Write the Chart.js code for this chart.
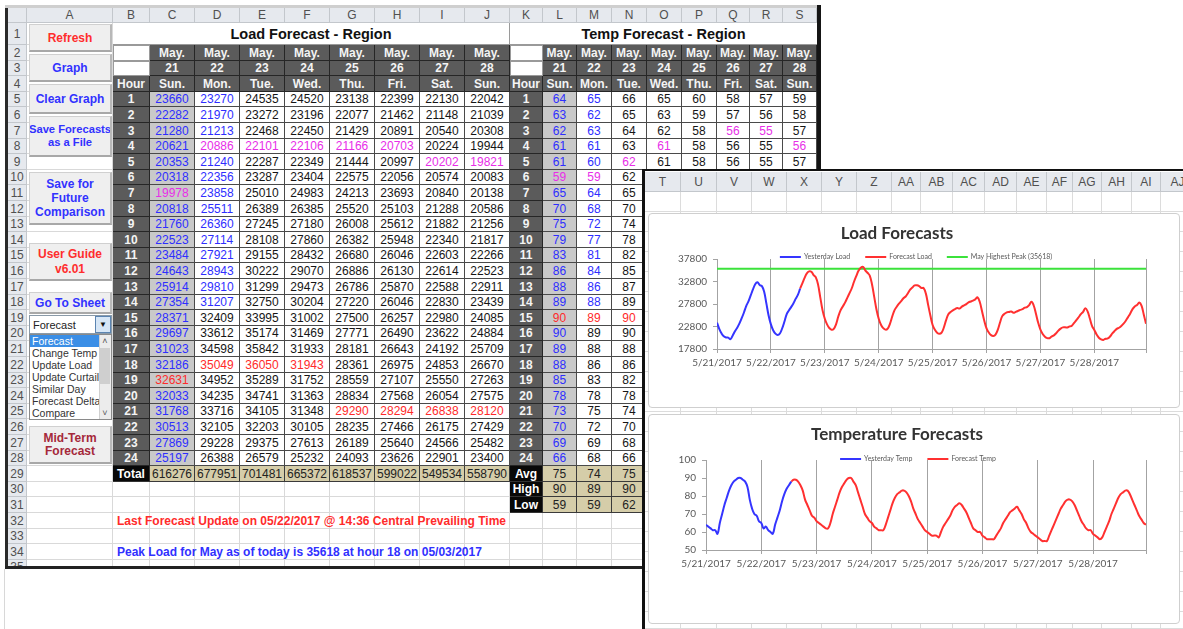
<!DOCTYPE html>
<html>
<head>
<meta charset="utf-8">
<script src="https://cdn.jsdelivr.net/npm/chart.js"></script>
<style>
html,body{margin:0;padding:0;background:#fff;}
body{width:1183px;height:629px;position:relative;overflow:hidden;font-family:"Liberation Sans",Arial,sans-serif;}
.c{position:absolute;box-sizing:border-box;display:flex;align-items:center;justify-content:center;white-space:nowrap;overflow:hidden;}
#sheet{position:absolute;left:0;top:0;width:817px;height:566px;overflow:hidden;}
canvas{position:absolute;}
</style>
</head>
<body>
<div id="sheet"></div>
<div id="frame"></div>
<div id="win"></div>
<canvas id="loadChart" width="532" height="195" style="left:648px;top:213px;"></canvas>
<canvas id="tempChart" width="532" height="210" style="left:648px;top:414px;"></canvas>
<script>
// ---------------- DATA ----------------
const dateLabels = ['5/21/2017','5/22/2017','5/23/2017','5/24/2017','5/25/2017','5/26/2017','5/27/2017','5/28/2017'];
const dayNums = ['21','22','23','24','25','26','27','28'];
const dayNames = ['Sun.','Mon.','Tue.','Wed.','Thu.','Fri.','Sat.','Sun.'];

const loadMay21 = [23660,22282,21280,20621,20353,20318,19978,20818,21760,22523,23484,24643,25914,27354,28371,29697,31023,32186,32631,32033,31768,30513,27869,25197];
const loadMay22 = [23270,21970,21213,20886,21240,22356,23858,25511,26360,27114,27921,28943,29810,31207,32409,33612,34598,35049,34952,34235,33716,32105,29228,26388];
const loadMay23 = [24535,23272,22468,22101,22287,23287,25010,26389,27245,28108,29155,30222,31299,32750,33995,35174,35842,36050,35289,34741,34105,32203,29375,26579];
const loadMay24 = [24520,23196,22450,22106,22349,23404,24983,26385,27180,27860,28432,29070,29473,30204,31002,31469,31933,31943,31752,31363,31348,30105,27613,25232];
const loadMay25 = [23138,22077,21429,21166,21444,22575,24213,25520,26008,26382,26680,26886,26786,27220,27500,27771,28181,28361,28559,28834,29290,28235,26189,24093];
const loadMay26 = [22399,21462,20891,20703,20997,22056,23693,25103,25612,25948,26046,26130,25870,26046,26257,26490,26643,26975,27107,27568,28294,27466,25640,23626];
const loadMay27 = [22130,21148,20540,20224,20202,20574,20840,21288,21882,22340,22603,22614,22588,22830,22980,23622,24192,24853,25550,26054,26838,26175,24566,22901];
const loadMay28 = [22042,21039,20308,19944,19821,20083,20138,20586,21256,21817,22266,22523,22911,23439,24085,24884,25709,26670,27263,27575,28120,27429,25482,23400];
const loadTotals = [616276,677951,701481,665372,618537,599022,549534,558790];

const tempMay21 = [64,63,62,61,61,59,65,70,75,79,83,86,88,89,90,90,89,88,85,78,73,70,69,66];
const tempMay22 = [65,62,63,61,60,59,64,68,72,77,81,84,86,88,89,89,88,86,83,78,75,72,69,68];
const tempMay23 = [66,65,64,63,62,62,65,70,74,78,82,85,87,89,90,90,88,86,82,78,74,70,68,66];
const tempMay24 = [65,63,62,61,61,61,64,68,72,76,79,81,82,83,83,82,80,77,73,70,67,65,63,61];
const tempMay25 = [60,59,58,58,58,57,60,63,65,67,69,72,74,75,76,75,73,71,68,65,62,61,60,60];
const tempMay26 = [58,57,56,56,56,56,58,60,62,65,67,69,71,72,73,74,72,70,67,65,62,60,59,58];
const tempMay27 = [57,56,55,55,55,58,61,64,67,70,73,75,77,78,78,77,75,72,69,66,64,62,61,61];
const tempMay28 = [59,58,57,56,57,60,63,66,70,73,76,79,81,82,83,83,81,78,75,72,69,67,65,64];

const mayPeak = 35618;
const lastActualIndex = 37;   // 5/22 hour ending 14
const loadYTicks = [17800,22800,27800,32800,37800];
const tempYTicks = [50,60,70,80,90,100];

const loadDays = [loadMay21,loadMay22,loadMay23,loadMay24,loadMay25,loadMay26,loadMay27,loadMay28];
const tempDays = [tempMay21,tempMay22,tempMay23,tempMay24,tempMay25,tempMay26,tempMay27,tempMay28];

// ---------------- SPREADSHEET ----------------
const S = document.getElementById('sheet');
function put(parent,x0,y0,x1,y1,css,txt){
  const d=document.createElement('div'); d.className='c';
  d.style.cssText='left:'+x0+'px;top:'+y0+'px;width:'+(x1-x0)+'px;height:'+(y1-y0)+'px;'+(css||'');
  if(txt!==undefined) d.textContent=txt;
  parent.appendChild(d); return d;
}
const CE=[8,27,113,150,195,240,285,330,375,420,465,510,543,577,612,647,682,717,750,783,817];
const RT = r => r===0?8 : r===1?23 : Math.round(45+(r-2)*15.6);
const RB = r => RT(r+1);
function cell(c,r,css,txt,c2,r2){ if(c2===undefined)c2=c; if(r2===undefined)r2=r; return put(S,CE[c],RT(r),CE[c2+1],RB(r2),css,txt); }
const letters=['','A','B','C','D','E','F','G','H','I','J','K','L','M','N','O','P','Q','R','S'];
const GRID='border-right:1px solid #d9d9d9;border-bottom:1px solid #d9d9d9;background:#fff;';
const HDR='background:#e6e9ee;color:#505050;font-size:12px;border-right:1px solid #c3c7cc;border-bottom:1px solid #c3c7cc;';
const DARK='background:#5b5b5b;color:#f4f4f4;font-weight:bold;font-size:12px;border-right:1px solid #262626;border-bottom:1px solid #262626;';
const DATA='border-right:1px solid #4a4a4a;border-bottom:1px solid #4a4a4a;font-size:12px;';
const TAN='background:#d5cda9;color:#222;font-size:12px;border-right:1px solid #3a3a3a;border-bottom:1px solid #3a3a3a;';
const BLACKC='background:#080808;color:#fff;font-weight:bold;font-size:12px;border-right:1px solid #333;border-bottom:1px solid #333;';
const BLUE='#2e2eff', MAG='#e82ee8', RED='#ff2a2a', BLK='#151515';

for(let r=1;r<=35;r++) for(let c=1;c<=19;c++) cell(c,r,GRID);
for(let c=0;c<=19;c++) cell(c,0,HDR,letters[c]);
for(let r=1;r<=35;r++) cell(0,r,HDR,String(r));

cell(2,1,'background:#fff;color:#111;font-weight:bold;font-size:14.5px;border-right:1px solid #9a9a9a;border-bottom:1px solid #9a9a9a;','Load Forecast - Region',10,1);
cell(11,1,'background:#fff;color:#111;font-weight:bold;font-size:14.5px;border-bottom:1px solid #9a9a9a;','Temp Forecast - Region',19,1);
[2,11].forEach(c=>{ cell(c,2,'background:#fff;border:1px solid #9a9a9a;'); cell(c,3,'background:#fff;border:1px solid #9a9a9a;'); cell(c,4,DARK,'Hour'); });

function colorFor(arr,h,flat){
  const mx=Math.max(...arr), mn=Math.min(...arr);
  if(h===arr.indexOf(mx)) return RED;
  if(h===arr.indexOf(mn)) return MAG;
  return flat<=lastActualIndex?BLUE:BLK;
}
for(let d=0;d<8;d++){
  [3+d,12+d].forEach(c=>{ cell(c,2,DARK,'May.'); cell(c,3,DARK,dayNums[d]); cell(c,4,DARK,dayNames[d]); });
  for(let h=0;h<24;h++){
    const flat=d*24+h; const bg = d===0?'background:#c9c9c9;':'background:#fff;';
    cell(3+d,5+h,DATA+bg+'color:'+colorFor(loadDays[d],h,flat)+';',String(loadDays[d][h]));
    cell(12+d,5+h,DATA+bg+'color:'+colorFor(tempDays[d],h,flat)+';',String(tempDays[d][h]));
  }
  cell(3+d,29,TAN,String(loadTotals[d]));
  const t=tempDays[d];
  cell(12+d,29,TAN,String(Math.round(t.reduce((a,b)=>a+b,0)/t.length)));
  cell(12+d,30,TAN,String(Math.max(...t)));
  cell(12+d,31,TAN,String(Math.min(...t)));
}
for(let h=1;h<=24;h++){ cell(2,4+h,DARK,String(h)); cell(11,4+h,DARK,String(h)); }
cell(2,29,BLACKC,'Total');
cell(11,29,BLACKC,'Avg'); cell(11,30,BLACKC,'High'); cell(11,31,BLACKC,'Low');

// buttons
function btn(y0,y1,lines,color,fs,lh){
  const d=put(S,29,y0,112,y1,'background:#efefef;border:1px solid #d0d0d0;border-right:2px solid #b8b8b8;border-bottom:2px solid #a8a8a8;flex-direction:column;font-weight:bold;color:'+color+';font-size:'+fs+'px;line-height:'+lh+'px;');
  lines.forEach(t=>{const s=document.createElement('div'); s.textContent=t; d.appendChild(s);});
}
btn(24,52,['Refresh'],'#ff2d2d',12,14);
btn(54,82,['Graph'],'#3232ff',12,14);
btn(84,114,['Clear Graph'],'#3232ff',12,14);
btn(116,157,['Save Forecasts','as a File'],'#3232ff',11.2,13);
btn(172,225,['Save for','Future','Comparison'],'#3232ff',12,14);
btn(243,281,['User Guide','v6.01'],'#ff2d2d',12,15);
btn(292,314,['Go To Sheet'],'#3232ff',12,14);
btn(426,464,['Mid-Term','Forecast'],'#a5283a',12,13);
// combo box + list
put(S,29,315,112,334,'background:#fff;border:1px solid #8a9aa8;justify-content:flex-start;padding-left:3px;font-size:11px;color:#222;','Forecast');
put(S,95,316,111,333,'background:#d6e6f6;border:1px solid #5b84b1;font-size:8px;color:#111;','\u25BC');
put(S,29,334,112,420,'background:#fff;border:1px solid #8a8a8a;');
const listItems=['Forecast','Change Temp','Update Load','Update Curtailment','Similar Day','Forecast Delta','Compare'];
listItems.forEach((t,i)=>{
  put(S,30,335+i*12,99,347+i*12,'justify-content:flex-start;padding-left:2px;font-size:10.5px;'+(i===0?'background:#3a8ee6;color:#fff;':'color:#333;'),t);
});
put(S,99,335,111,419,'background:#ececec;border-left:1px solid #d0d0d0;');
put(S,100,336,110,346,'font-size:9px;color:#555;','\u02C4');
put(S,100,348,110,384,'background:#cfcfcf;');
put(S,100,407,110,418,'font-size:9px;color:#555;','\u02C5');
// status lines
put(S,117,RT(32),640,RB(32),'justify-content:flex-start;font-weight:bold;font-size:12px;color:#ff2b2b;','Last Forecast Update on 05/22/2017 @ 14:36 Central Prevailing Time');
put(S,117,RT(34),640,RB(34),'justify-content:flex-start;font-weight:bold;font-size:12px;color:#3030ff;','Peak Load for May as of today is 35618 at hour 18 on 05/03/2017');

// frame of sheet window (below the second window)
const F=document.getElementById('frame');
put(F,5,5,821,8,'background:#cfcfcf;');
put(F,5,8,8,569,'background:#2a2a2a;');
put(F,817,5,821,569,'background:#151515;');
put(F,5,566,821,569,'background:#222;');
put(F,4,569,5,629,'background:#d8d8d8;');

// ---------------- SECOND WINDOW ----------------
const W=document.getElementById('win');
put(W,645,171,1183,629,'background:#fff;');
const RE=[645,681,717,752,787,822,857,892,921,953,985,1017,1047,1073,1102,1132,1161,1195];
const rl=['T','U','V','W','X','Y','Z','AA','AB','AC','AD','AE','AF','AG','AH','AI','AJ'];
for(let i=0;i<rl.length;i++){
  put(W,RE[i],172,RE[i+1],192,HDR,rl[i]);
  for(let y=192;y<629;y+=20) put(W,RE[i],y,RE[i+1],Math.min(y+20,629),'border-right:1px solid #dcdcdc;border-bottom:1px solid #dcdcdc;');
}
put(W,642,169,645,629,'background:#111;');
put(W,642,169,1183,171,'background:#111;');
put(W,648,213,1180,408,'background:#fff;border:1px solid #cfcfcf;border-radius:4px;');
put(W,648,414,1180,624,'background:#fff;border:1px solid #cfcfcf;border-radius:4px;');

// ---------------- CHARTS ----------------
const excelLegend={
  id:'excelLegend',
  afterDatasetsDraw(chart,args,o){
    const ctx=chart.ctx, ds=chart.data.datasets;
    ctx.save(); ctx.font=o.size+'px '+o.family; ctx.textBaseline='middle';
    const widths=ds.map(d=>o.lineLen+o.gap+ctx.measureText(d.label).width);
    const total=widths.reduce((a,b)=>a+b,0)+o.sep*(ds.length-1);
    let x=(chart.width-total)/2+o.offsetX; const y=chart.chartArea.top+o.dy;
    ds.forEach((d,i)=>{
      ctx.strokeStyle=d.borderColor; ctx.lineWidth=2; ctx.beginPath(); ctx.moveTo(x,y); ctx.lineTo(x+o.lineLen,y); ctx.stroke();
      ctx.fillStyle=o.color; ctx.fillText(d.label,x+o.lineLen+o.gap,y);
      x+=widths[i]+o.sep;
    });
    ctx.restore();
  }
};
function series(days,from,to){ const all=[].concat(...days); const out=[]; for(let i=from;i<=to;i++) out.push({x:i,y:all[i]}); return out; }
const lastIndex=loadDays.length*24-1;
const dayTicks=[0,24,48,72,96,120,144,168,lastIndex];

function makeChart(id,cfg){
  return new Chart(document.getElementById(id).getContext('2d'),{
    type:'line',
    data:{datasets:cfg.datasets},
    options:{
      responsive:false, animation:false, devicePixelRatio:1,
      layout:{padding:{left:0,right:34,top:0,bottom:0}},
      elements:{point:{radius:0}},
      plugins:{
        legend:{display:false}, tooltip:{enabled:false},
        title:{display:true,text:cfg.title,color:'#333',font:{family:'Lato',size:17,weight:'bold'},padding:{top:10,bottom:15.6}},
        excelLegend:{size:7,family:'Lato',color:'#595959',lineLen:21,gap:3,sep:15,dy:cfg.legendDy,offsetX:cfg.legendX}
      },
      scales:{
        x:{type:'linear',min:0,max:lastIndex,
          afterBuildTicks:s=>{s.ticks=dayTicks.map(v=>({value:v}));},
          ticks:{autoSkip:false,maxRotation:0,minRotation:0,padding:4,color:'#595959',font:{family:'Lato',size:10},
            callback:v=>(v%24===0&&v/24<dateLabels.length)?dateLabels[v/24]:''},
          grid:{color:'#a3a3a3',lineWidth:1,tickLength:4,drawTicks:true},
          border:{display:true,color:'#a3a3a3'},
          afterFit:s=>{s.height=cfg.xHeight;}
        },
        y:{type:'linear',min:cfg.yTicks[0],max:cfg.yTicks[cfg.yTicks.length-1],
          afterBuildTicks:s=>{s.ticks=cfg.yTicks.map(v=>({value:v}));},
          ticks:{padding:6,color:'#595959',font:{family:'Lato',size:10},callback:v=>String(v)},
          grid:{drawOnChartArea:false,drawTicks:true,tickLength:4,color:'#a3a3a3'},
          border:{display:true,color:'#a3a3a3'},
          afterFit:s=>{s.width=cfg.yWidth;}
        }
      }
    },
    plugins:[excelLegend]
  });
}
const BLUE_L='#3535ff', RED_L='#ff3030', GREEN_L='#3be23b';
makeChart('loadChart',{
  title:'Load Forecasts', yTicks:loadYTicks, yWidth:69, xHeight:59, legendDy:-2, legendX:2,
  datasets:[
    {label:'Yesterday Load',data:series(loadDays,0,lastActualIndex),borderColor:BLUE_L,backgroundColor:BLUE_L,borderWidth:2,tension:0.4,fill:false},
    {label:'Forecast Load',data:series(loadDays,lastActualIndex,lastIndex),borderColor:RED_L,backgroundColor:RED_L,borderWidth:2,tension:0.4,fill:false},
    {label:'May Highest Peak ('+mayPeak+')',data:[{x:0,y:mayPeak},{x:lastIndex,y:mayPeak}],borderColor:GREEN_L,backgroundColor:GREEN_L,borderWidth:2,tension:0,fill:false}
  ]
});
makeChart('tempChart',{
  title:'Temperature Forecasts', yTicks:tempYTicks, yWidth:58, xHeight:74, legendDy:-1, legendX:4,
  datasets:[
    {label:'Yesterday Temp',data:series(tempDays,0,lastActualIndex),borderColor:BLUE_L,backgroundColor:BLUE_L,borderWidth:2,tension:0.4,fill:false},
    {label:'Forecast Temp',data:series(tempDays,lastActualIndex,lastIndex),borderColor:RED_L,backgroundColor:RED_L,borderWidth:2,tension:0.4,fill:false}
  ]
});
</script>
</body>
</html>
